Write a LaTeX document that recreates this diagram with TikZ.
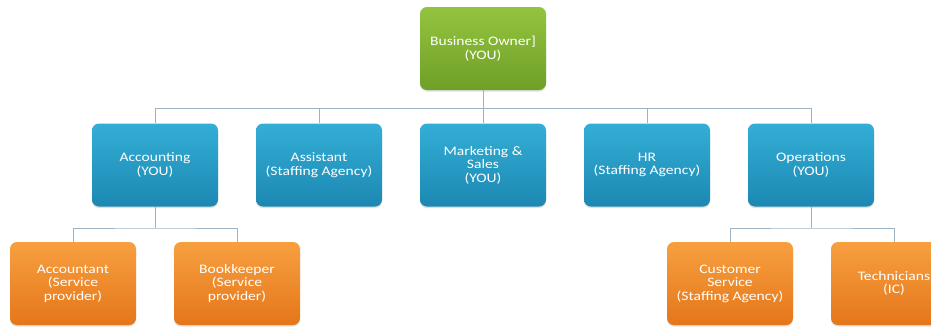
\documentclass[tikz,border=0pt]{standalone}
\usepackage{fontspec}
\setmainfont{Carlito}[FakeStretch=1.2]
\usepackage{tikz}
\usetikzlibrary{shadows}
\newcommand{\boxWidth}[0]{126pt}
\newcommand{\boxHeight}[0]{83pt}
\newcommand{\busOne}[0]{108}
\newcommand{\busTwo}[0]{228}
\definecolor{ownertop}{HTML}{94C43E}
\definecolor{ownerbot}{HTML}{6E9F27}
\definecolor{deptop}{HTML}{33AED6}
\definecolor{depbot}{HTML}{1C88B2}
\definecolor{staftop}{HTML}{F7A040}
\definecolor{stafbot}{HTML}{E5761A}
\definecolor{linkgray}{HTML}{9DB4C6}

\begin{document}
\begin{tikzpicture}[x=1pt, y=-1pt]
  \tikzset{orgbox/.style={rounded corners=7pt, minimum width=\boxWidth, minimum height=\boxHeight,
      align=center, text=white, font=\fontsize{13}{13.5}\selectfont,
      drop shadow={opacity=0.25, shadow xshift=0pt, shadow yshift=-1.5pt}},
    owner/.style={orgbox, top color=ownertop, bottom color=ownerbot},
    dept/.style={orgbox, top color=deptop, bottom color=depbot},
    staff/.style={orgbox, top color=staftop, bottom color=stafbot},
    link/.style={linkgray, line width=0.9pt}}
  \clip (0,0) rectangle (931,327);
  \fill[white] (0,0) rectangle (931,327);
  \node[owner](Owner) at (483,48.5){Business Owner]\\(YOU)};
  \node[dept](Dept-1) at (155,165){Accounting\\(YOU)};
  \node[dept](Dept-2) at (319,165){Assistant\\(Staffing Agency)};
  \node[dept](Dept-3) at (483,165){Marketing \&\\Sales\\(YOU)};
  \node[dept](Dept-4) at (647,165){HR\\(Staffing Agency)};
  \node[dept](Dept-5) at (811,165){Operations\\(YOU)};
  \node[staff](Staff-1-1) at (73,283.5){Accountant\\(Service\\provider)};
  \node[staff](Staff-1-2) at (237,283.5){Bookkeeper\\(Service\\provider)};
  \node[staff](Staff-5-1) at (730,283.5){Customer\\Service\\(Staffing Agency)};
  \node[staff](Staff-5-2) at (894,283.5){Technicians\\(IC)};
  \coordinate (bus-1) at (483,\busOne);
  \coordinate (bus-2) at (155,\busTwo);
  \coordinate (bus-3) at (811,\busTwo);
  \draw[link] (Owner.south) -- (bus-1);
  \foreach \d in {1,...,5}
    \draw[link] (Dept-\d.north) |- (bus-1);
  \draw[link] (Dept-1.south) -- (bus-2);
  \draw[link] (Staff-1-1.north) |- (bus-2) -| (Staff-1-2.north);
  \draw[link] (Dept-5.south) -- (bus-3);
  \draw[link] (Staff-5-1.north) |- (bus-3) -| (Staff-5-2.north);
\end{tikzpicture}
\end{document}
